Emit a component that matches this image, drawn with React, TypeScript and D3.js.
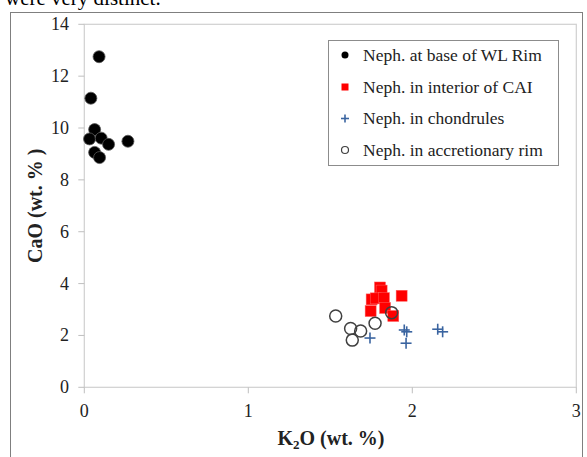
import React from "react";
import * as d3 from "d3";

const xTicks = [0, 1, 2, 3];
const yTicks = [0, 2, 4, 6, 8, 10, 12, 14];

const baseRimX = [0.09, 0.04, 0.063, 0.032, 0.103, 0.148, 0.266, 0.063, 0.093];
const baseRimY = [12.75, 11.15, 9.94, 9.58, 9.61, 9.37, 9.49, 9.06, 8.86];

const caiX = [1.803, 1.813, 1.935, 1.752, 1.777, 1.827, 1.746, 1.834, 1.884];
const caiY = [3.85, 3.73, 3.53, 3.39, 3.43, 3.44, 2.94, 3.06, 2.75];

const chondX = [1.742, 1.951, 1.966, 1.962, 2.155, 2.185];
const chondY = [1.9, 2.21, 2.14, 1.7, 2.24, 2.14];

const accX = [1.533, 1.624, 1.685, 1.634, 1.773, 1.874];
const accY = [2.75, 2.27, 2.17, 1.82, 2.47, 2.88];

const legendLabels = [
  "Neph. at base of WL Rim",
  "Neph. in interior of CAI",
  "Neph. in chondrules",
  "Neph. in accretionary rim",
];

const FONT = "'Liberation Serif', serif";

export default function App() {
  const left = 84.3, right = 576.3, top = 24.3, bottom = 387.3;
  const x = d3.scaleLinear().domain([0, 3]).range([left, right]);
  const y = d3.scaleLinear().domain([0, 14]).range([bottom, top]);
  const axisCol = "#bfbfbf";
  const blue = "#3a64a0";

  const plus = (cx: number, cy: number, s: number, key: string) => (
    <g key={key} stroke={blue} strokeWidth={1.6}>
      <line x1={cx - s} x2={cx + s} y1={cy} y2={cy} />
      <line x1={cx} x2={cx} y1={cy - s} y2={cy + s} />
    </g>
  );

  const legX = 328, legY = 40, legW = 230, legH = 125;
  const rowY = [55, 87, 118.5, 150];

  return (
    <svg width={587} height={457} style={{ position: "absolute", left: 0, top: 0, background: "#fff" }}>
      <text x={5} y={5} fontFamily={FONT} fontSize={21} fill="#000">were very distinct.</text>
      <rect x={10.5} y={12.5} width={572} height={460} fill="none" stroke="#7f7f7f" strokeWidth={1} />
      <rect x={left} y={top} width={right - left} height={bottom - top} fill="none" stroke="#d0d0d0" strokeWidth={1.2} />
      {yTicks.map((t) => (
        <g key={"y" + t}>
          <line x1={left - 6} x2={left} y1={y(t)} y2={y(t)} stroke={axisCol} />
          <text x={69} y={y(t) + 6} textAnchor="end" fontFamily={FONT} fontSize={18} fill="#222">{t}</text>
        </g>
      ))}
      {xTicks.map((t) => (
        <g key={"x" + t}>
          <line x1={x(t)} x2={x(t)} y1={bottom} y2={bottom + 6} stroke={axisCol} />
          <text x={x(t)} y={417} textAnchor="middle" fontFamily={FONT} fontSize={18} fill="#222">{t}</text>
        </g>
      ))}
      <text x={331} y={445} textAnchor="middle" fontFamily={FONT} fontSize={20} fontWeight="bold" fill="#222">
        K<tspan fontSize={13} dy={4}>2</tspan><tspan dy={-4}>O (wt. %)</tspan>
      </text>
      <text transform={`translate(42,${(top + bottom) / 2}) rotate(-90)`} textAnchor="middle" fontFamily={FONT} fontSize={20} fontWeight="bold" fill="#222">
        CaO (wt. % )
      </text>

      {baseRimX.map((v, i) => (
        <circle key={"b" + i} cx={x(v)} cy={y(baseRimY[i])} r={6} fill="#000" stroke="#555" strokeWidth={0.8} />
      ))}
      {caiX.map((v, i) => (
        <rect key={"c" + i} x={x(v) - 5.5} y={y(caiY[i]) - 5.5} width={11} height={11} fill="#ff0000" stroke="#ff6060" strokeWidth={0.5} />
      ))}
      {chondX.map((v, i) => plus(x(v), y(chondY[i]), 5.5, "p" + i))}
      {accX.map((v, i) => (
        <circle key={"a" + i} cx={x(v)} cy={y(accY[i])} r={6} fill="none" stroke="#404040" strokeWidth={1.5} />
      ))}

      <rect x={legX + 0.5} y={legY + 0.5} width={legW} height={legH} fill="#fff" stroke="#8c8c8c" strokeWidth={1} />
      <circle cx={345} cy={rowY[0]} r={3.5} fill="#000" />
      <rect x={341.5} y={rowY[1] - 3.5} width={7} height={7} fill="#ff0000" />
      {plus(345, rowY[2], 4, "lp")}
      <circle cx={345} cy={rowY[3]} r={3.5} fill="none" stroke="#404040" strokeWidth={1.2} />
      {legendLabels.map((l, i) => (
        <text key={"l" + i} x={363} y={rowY[i] + 5.5} fontFamily={FONT} fontSize={17.5} fill="#222">{l}</text>
      ))}
    </svg>
  );
}
